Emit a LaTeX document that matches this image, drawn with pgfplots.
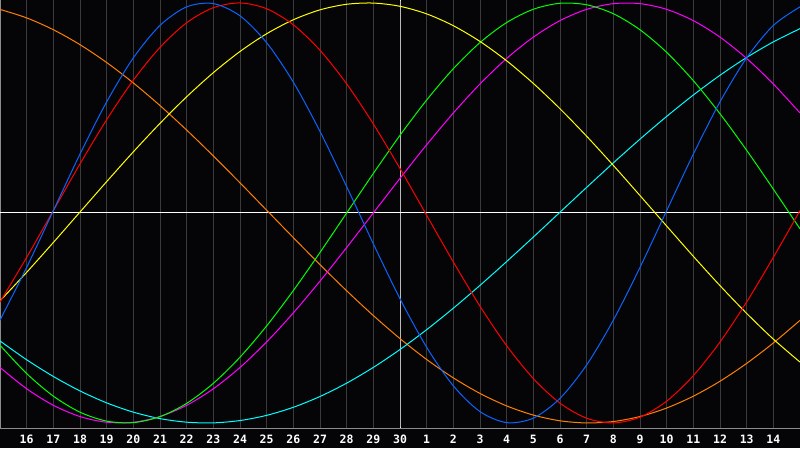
\documentclass[border=0pt]{standalone}
\usepackage{fontspec}
\setmonofont{DejaVu Sans Mono}
\usepackage{pgfplots}
\pgfplotsset{compat=1.18}
\definecolor{bg}{HTML}{050508}
\definecolor{gridc}{HTML}{3A3A3A}
\definecolor{framec}{HTML}{8C8C8C}
\definecolor{cblue}{HTML}{0A64FF}
\definecolor{cred}{HTML}{FF0000}
\definecolor{cyellow}{HTML}{FFFF00}
\definecolor{cgreen}{HTML}{00FF00}
\definecolor{cmagenta}{HTML}{FF00FF}
\definecolor{ccyan}{HTML}{00FFFF}
\definecolor{corange}{HTML}{FF7F00}
\begin{document}
\begin{tikzpicture}
\fill[bg] (0,-20pt) rectangle (800pt,428pt);
\begin{axis}[
  at={(0,0)}, anchor=south west,
  scale only axis, width=800pt, height=428pt,
  xmin=0, xmax=30, ymin=-1.024, ymax=1.014,
  axis x line*=box, axis y line*=left,
  axis line style={framec, line width=1pt},
  xtick={1,...,29},
  xticklabels={16,17,18,19,20,21,22,23,24,25,26,27,28,29,30,1,2,3,4,5,6,7,8,9,10,11,12,13,14},
  ytick=\empty,
  major tick length=0pt,
  xmajorgrids, grid style={gridc, line width=1pt},
  xticklabel style={font=\ttfamily\bfseries\fontsize{11.5}{11.5}\selectfont, text=white, anchor=north, inner sep=0pt, yshift=-6.5pt},
  every axis plot/.append style={line width=1pt, smooth, no markers},
  clip=true,
]
\addplot[white, line width=1pt] coordinates {(0,0) (30,0)};
\addplot[white, line width=1pt] coordinates {(15,-1.024) (15,1.014)};
% orange (48)
\addplot[corange] coordinates {(0,0.9692)(1,0.9288)(2,0.8725)(3,0.8013)(4,0.7163)(5,0.6191)(6,0.5113)(7,0.3947)(8,0.2714)(9,0.1435)(10,0.0131)(11,-0.1175)(12,-0.2462)(13,-0.3706)(14,-0.4886)(15,-0.5983)(16,-0.6978)(17,-0.7853)(18,-0.8594)(19,-0.9188)(20,-0.9624)(21,-0.9897)(22,-0.9999)(23,-0.9931)(24,-0.9692)(25,-0.9288)(26,-0.8725)(27,-0.8013)(28,-0.7163)(29,-0.6191)(30,-0.5113)};
% cyan (53)
\addplot[ccyan] coordinates {(0,-0.6095)(1,-0.6991)(2,-0.7786)(3,-0.8475)(4,-0.9043)(5,-0.9484)(6,-0.9793)(7,-0.9963)(8,-0.9995)(9,-0.9885)(10,-0.9637)(11,-0.9254)(12,-0.8739)(13,-0.8103)(14,-0.7354)(15,-0.6502)(16,-0.5557)(17,-0.4535)(18,-0.3448)(19,-0.2314)(20,-0.1148)(21,0.0036)(22,0.1219)(23,0.2384)(24,0.3515)(25,0.4597)(26,0.5616)(27,0.6556)(28,0.7403)(29,0.8146)(30,0.8775)};
% magenta (38)
\addplot[cmagenta] coordinates {(0,-0.7357)(1,-0.8372)(2,-0.9158)(3,-0.9694)(4,-0.9966)(5,-0.9966)(6,-0.9694)(7,-0.9158)(8,-0.8372)(9,-0.7357)(10,-0.6142)(11,-0.4759)(12,-0.3247)(13,-0.1646)(14,0)(15,0.1646)(16,0.3247)(17,0.4759)(18,0.6142)(19,0.7357)(20,0.8372)(21,0.9158)(22,0.9694)(23,0.9966)(24,0.9966)(25,0.9694)(26,0.9158)(27,0.8372)(28,0.7357)(29,0.6142)(30,0.4759)};
% green (33)
\addplot[cgreen] coordinates {(0,-0.6299)(1,-0.7647)(2,-0.8722)(3,-0.9487)(4,-0.9912)(5,-0.9984)(6,-0.9699)(7,-0.9067)(8,-0.8113)(9,-0.6868)(10,-0.5377)(11,-0.3696)(12,-0.1881)(13,0)(14,0.1881)(15,0.3696)(16,0.5377)(17,0.6868)(18,0.8113)(19,0.9067)(20,0.9699)(21,0.9984)(22,0.9912)(23,0.9487)(24,0.8722)(25,0.7647)(26,0.6299)(27,0.4724)(28,0.2982)(29,0.1134)(30,-0.0757)};
% yellow (43)
\addplot[cyellow] coordinates {(0,-0.4187)(1,-0.2826)(2,-0.1406)(3,0.0044)(4,0.1492)(5,0.2910)(6,0.4266)(7,0.5532)(8,0.6680)(9,0.7688)(10,0.8534)(11,0.9199)(12,0.9671)(13,0.9937)(14,0.9994)(15,0.9840)(16,0.9479)(17,0.8916)(18,0.8166)(19,0.7244)(20,0.6167)(21,0.4962)(22,0.3652)(23,0.2264)(24,0.0828)(25,-0.0624)(26,-0.2065)(27,-0.3461)(28,-0.4783)(29,-0.6007)(30,-0.7102)};
% red (28)
\addplot[cred] coordinates {(0,-0.4237)(1,-0.2115)(2,0.0112)(3,0.2334)(4,0.4440)(5,0.6322)(6,0.7885)(7,0.9058)(8,0.9774)(9,0.9999)(10,0.9724)(11,0.8960)(12,0.7748)(13,0.6146)(14,0.4238)(15,0.2115)(16,-0.0112)(17,-0.2334)(18,-0.4440)(19,-0.6322)(20,-0.7885)(21,-0.9058)(22,-0.9774)(23,-0.9999)(24,-0.9724)(25,-0.8960)(26,-0.7748)(27,-0.6146)(28,-0.4238)(29,-0.2115)(30,0.0112)};
% blue (23)
\addplot[cblue] coordinates {(0,-0.5103)(1,-0.2593)(2,0.0109)(3,0.2803)(4,0.5289)(5,0.7385)(6,0.8929)(7,0.9813)(8,0.9969)(9,0.9386)(10,0.8107)(11,0.6228)(12,0.3883)(13,0.1253)(14,-0.1470)(15,-0.4084)(16,-0.6395)(17,-0.8232)(18,-0.9459)(19,-0.9984)(20,-0.9768)(21,-0.8828)(22,-0.7235)(23,-0.5103)(24,-0.2593)(25,0.0109)(26,0.2803)(27,0.5289)(28,0.7385)(29,0.8929)(30,0.9813)};
\end{axis}
\pgfresetboundingbox
\path (0,-20pt) rectangle (800pt,428pt);
\end{tikzpicture}
\end{document}
